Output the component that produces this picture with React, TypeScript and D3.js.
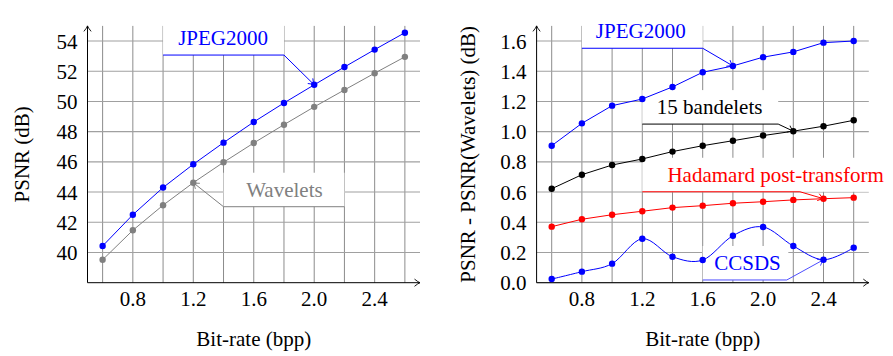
import React from "react";
import * as d3 from "d3";

// ---------- data ----------
const bitRates = [0.6, 0.8, 1.0, 1.2, 1.4, 1.6, 1.8, 2.0, 2.2, 2.4, 2.6];
const psnrJpeg2000 = [40.43, 42.5, 44.3, 45.84, 47.27, 48.64, 49.9, 51.1, 52.28, 53.43, 54.55];
const psnrWavelets = [39.52, 41.47, 43.13, 44.62, 45.97, 47.25, 48.46, 49.64, 50.76, 51.87, 52.95];
const gainJpeg2000 = [0.907, 1.055, 1.172, 1.216, 1.296, 1.393, 1.435, 1.493, 1.528, 1.589, 1.6];
const gainBandelets = [0.622, 0.715, 0.779, 0.819, 0.868, 0.907, 0.94, 0.974, 1.003, 1.036, 1.075];
const gainHadamard = [0.371, 0.42, 0.45, 0.473, 0.497, 0.51, 0.526, 0.536, 0.548, 0.556, 0.563];
const gainCcsds = [0.024, 0.073, 0.126, 0.291, 0.172, 0.15, 0.311, 0.369, 0.243, 0.152, 0.232];

const xTickLabels = [0.8, 1.2, 1.6, 2.0, 2.4];
const leftYTicks = [40, 42, 44, 46, 48, 50, 52, 54];
const rightYTicks = [0, 0.2, 0.4, 0.6, 0.8, 1.0, 1.2, 1.4, 1.6];

const xDomain: [number, number] = [0.5, 2.7];
const leftYDomain: [number, number] = [38, 55];
const rightYDomain: [number, number] = [0, 1.7];

const FONT = '"Liberation Serif", "DejaVu Serif", "Liberation Sans", Arial, sans-serif';
const FS = 21;
const TXT: React.CSSProperties = { fontFamily: FONT, fontSize: FS + "px" };

type Series = { values: number[]; color: string; smooth?: boolean };
type Note = {
  text: string;
  color: string;
  pinColor: string;
  boxX0: number;
  boxX1: number;
  pinStart: number;
  pinCorner: number;
  pinY: number;
  textX: number;
  target: [number, number];
};

const leftSeries: Series[] = [
  { values: psnrWavelets, color: "#808080" },
  { values: psnrJpeg2000, color: "#0000ff" },
];
const rightSeries: Series[] = [
  { values: gainCcsds, color: "#0000ff", smooth: true },
  { values: gainHadamard, color: "#ff0000" },
  { values: gainBandelets, color: "#000000" },
  { values: gainJpeg2000, color: "#0000ff" },
];

const leftNotes: Note[] = [
  { text: "JPEG2000", color: "#0000ff", pinColor: "#0000ff", boxX0: 1.0, boxX1: 1.8, pinStart: 1.0, pinCorner: 1.8, pinY: 53.07, textX: 1.397, target: [2.0, 51.1] },
  { text: "Wavelets", color: "#808080", pinColor: "#808080", boxX0: 1.4, boxX1: 2.2, pinStart: 2.2, pinCorner: 1.4, pinY: 43.03, textX: 1.803, target: [1.2, 44.62] },
];
const rightNotes: Note[] = [
  { text: "JPEG2000", color: "#0000ff", pinColor: "#0000ff", boxX0: 0.8, boxX1: 1.6, pinStart: 0.8, pinCorner: 1.6, pinY: 1.552, textX: 1.19, target: [1.8, 1.435] },
  { text: "15 bandelets", color: "#000000", pinColor: "#000000", boxX0: 1.2, boxX1: 2.1, pinStart: 1.2, pinCorner: 2.1, pinY: 1.05, textX: 1.646, target: [2.2, 1.003] },
  { text: "Hadamard post-transform", color: "#ff0000", pinColor: "#ff0000", boxX0: 1.2, boxX1: 2.8, pinStart: 1.2, pinCorner: 2.244, pinY: 0.602, textX: 2.083, target: [2.4, 0.556] },
  { text: "CCSDS", color: "#0000ff", pinColor: "#4d4dff", boxX0: 1.6, boxX1: 2.167, pinStart: 1.6, pinCorner: 2.157, pinY: 0.018, textX: 1.897, target: [2.4, 0.152] },
];

function ArrowHead({ x1, y1, x2, y2, color }: { x1: number; y1: number; x2: number; y2: number; color: string }) {
  const ang = (Math.atan2(y2 - y1, x2 - x1) * 180) / Math.PI;
  return (
    <path
      d="M -5.5,-3.6 Q -1.8,-0.6 0,0 Q -1.8,0.6 -5.5,3.6"
      transform={`translate(${x2},${y2}) rotate(${ang})`}
      fill="none"
      stroke={color}
      strokeWidth={0.9}
    />
  );
}

function Panel({
  x0, x1, yDomain, yTicks, yFormat, series, notes, yLabel, yLabelX,
}: {
  x0: number; x1: number; yDomain: [number, number]; yTicks: number[]; yFormat: (v: number) => string;
  series: Series[]; notes: Note[]; yLabel: string; yLabelX: number;
}) {
  const top = 25.9;
  const bottom = 282.7;
  const xS = d3.scaleLinear().domain(xDomain).range([x0, x1]);
  const yS = d3.scaleLinear().domain(yDomain).range([bottom, top]);
  const fmtX = d3.format(".1f");

  return (
    <g>
      {bitRates.map((b) => (
        <line key={"gx" + b} x1={xS(b)} x2={xS(b)} y1={top} y2={bottom} stroke="#8c8c8c" strokeWidth={1} />
      ))}
      {yTicks.map((t) => (
        <line key={"gy" + t} x1={x0} x2={x1} y1={yS(t)} y2={yS(t)} stroke="#a0a0a0" strokeWidth={1.1} />
      ))}
      {notes.map((n) => {
        const py = yS(n.pinY);
        return (
          <rect key={"box" + n.text} x={xS(n.boxX0)} y={py - 34} width={xS(n.boxX1) - xS(n.boxX0)} height={34} fill="#ffffff" />
        );
      })}
      <line x1={x0} x2={x1} y1={bottom} y2={bottom} stroke="#000" strokeWidth={1} />
      <ArrowHead x1={x0} y1={bottom} x2={x1} y2={bottom} color="#000" />
      <line x1={x0} x2={x0} y1={bottom} y2={top} stroke="#000" strokeWidth={1} />
      <ArrowHead x1={x0} y1={bottom} x2={x0} y2={top} color="#000" />
      {notes.map((n) => {
        const py = yS(n.pinY);
        const cx = xS(n.pinCorner);
        const tx = xS(n.target[0]);
        const ty = yS(n.target[1]);
        return (
          <g key={"pin" + n.text}>
            <path d={`M ${xS(n.pinStart)},${py} L ${cx},${py} L ${tx},${ty}`} fill="none" stroke={n.pinColor} strokeWidth={1} />
            <ArrowHead x1={cx} y1={py} x2={tx} y2={ty} color={n.pinColor} />
          </g>
        );
      })}
      {series.map((s, i) => {
        const pts: [number, number][] = bitRates.map((b, j) => [xS(b), yS(s.values[j])]);
        const line = d3.line().curve(s.smooth ? d3.curveCardinal.tension(0) : d3.curveLinear);
        return (
          <g key={"s" + i}>
            <path d={line(pts) || ""} fill="none" stroke={s.color} strokeWidth={1} />
            {pts.map((p, j) => (
              <circle key={j} cx={p[0]} cy={p[1]} r={3.2} fill={s.color} />
            ))}
          </g>
        );
      })}
      {notes.map((n) => (
        <text key={"t" + n.text} x={xS(n.textX)} y={yS(n.pinY) - 10} textAnchor="middle" fill={n.color} style={TXT}>
          {n.text}
        </text>
      ))}
      {yTicks.map((t) => (
        <text key={"yl" + t} x={x0 - 10} y={yS(t) + 7.5} textAnchor="end" fill="#000" style={TXT}>
          {yFormat(t)}
        </text>
      ))}
      {xTickLabels.map((t) => (
        <text key={"xl" + t} x={xS(t)} y={306} textAnchor="middle" fill="#000" style={TXT}>
          {fmtX(t)}
        </text>
      ))}
      <text x={(x0 + x1) / 2} y={346} textAnchor="middle" fill="#000" style={TXT}>
        Bit-rate (bpp)
      </text>
      <text transform={`translate(${yLabelX},${(top + bottom) / 2}) rotate(-90)`} textAnchor="middle" fill="#000" style={TXT}>
        {yLabel}
      </text>
    </g>
  );
}

export default function App() {
  return (
    <svg width={893} height={356} style={{ position: "absolute", left: 0, top: 0, background: "#fff" }}>
      <rect x={0} y={0} width={893} height={356} fill="#fff" />
      <Panel
        x0={87.5}
        x1={420}
        yDomain={leftYDomain}
        yTicks={leftYTicks}
        yFormat={d3.format("d")}
        series={leftSeries}
        notes={leftNotes}
        yLabel="PSNR (dB)"
        yLabelX={29}
      />
      <Panel
        x0={536.6}
        x1={868.8}
        yDomain={rightYDomain}
        yTicks={rightYTicks}
        yFormat={d3.format(".1f")}
        series={rightSeries}
        notes={rightNotes}
        yLabel="PSNR - PSNR(Wavelets) (dB)"
        yLabelX={475}
      />
    </svg>
  );
}
